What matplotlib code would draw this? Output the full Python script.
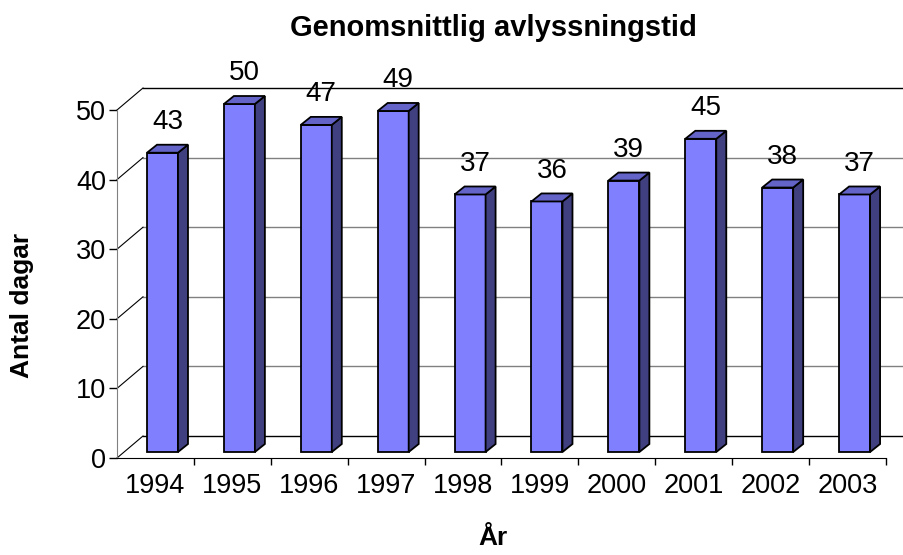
import numpy as np
import matplotlib
matplotlib.use("Agg")
import matplotlib.pyplot as plt
from matplotlib.patches import Polygon

plt.rcParams['font.family'] = ['Liberation Sans', 'DejaVu Sans']

years = ["1994", "1995", "1996", "1997", "1998", "1999", "2000", "2001", "2002", "2003"]
days = [43, 50, 47, 49, 37, 36, 39, 45, 38, 37]
yticks = [0, 10, 20, 30, 40, 50]

title = "Genomsnittlig avlyssningstid"
ylabel = "Antal dagar"
xlabel = "År"

# 3d look (in data units: x = categories, y = days)
wall_dx, wall_dy = 0.338, 3.16     # depth of floor / side wall
bar_x0, bar_w = 0.39, 0.403        # front face inside each category
bar_dx, bar_dy = 0.13, 1.15        # depth of a bar
bar_base = 0.86                    # bars stand in the middle of the floor

c_front = "#8080FF"
c_side = "#404080"
c_top = "#6464C8"

W, H = 904, 555
fig = plt.figure(figsize=(W / 100, H / 100), dpi=100)
ax = fig.add_axes([117 / W, 97 / H, 769 / W, 348 / H])
n = len(days)
ax.set_xlim(0, n)
ax.set_ylim(0, 50)

# back wall gridlines + side wall diagonals
for t in yticks:
    col = "black" if t in (0, 50) else "#808080"
    ax.plot([wall_dx, n + wall_dx], [t + wall_dy, t + wall_dy], color=col,
            lw=1, clip_on=False, zorder=1)
    ax.plot([0, wall_dx], [t, t + wall_dy], color="black", lw=0.8,
            clip_on=False, zorder=1)

# bars
for i, v in enumerate(days):
    x0 = i + bar_x0
    x1 = x0 + bar_w
    b = bar_base
    front = [(x0, b), (x1, b), (x1, b + v), (x0, b + v)]
    side = [(x1, b), (x1 + bar_dx, b + bar_dy), (x1 + bar_dx, b + v + bar_dy), (x1, b + v)]
    top = [(x0, b + v), (x1, b + v), (x1 + bar_dx, b + v + bar_dy), (x0 + bar_dx, b + v + bar_dy)]
    for pts, c in ((front, c_front), (side, c_side), (top, c_top)):
        ax.add_patch(Polygon(pts, closed=True, facecolor=c, edgecolor="black",
                             lw=1.3, joinstyle="miter", clip_on=False, zorder=3))
    ax.annotate(str(v), (x0 + (bar_w + bar_dx) / 2, b + v + bar_dy),
                xytext=(0, 7), textcoords="offset points", ha="center",
                va="bottom", fontsize=20, annotation_clip=False, zorder=4)

for s in ("top", "right"):
    ax.spines[s].set_visible(False)
ax.spines["left"].set_color("#808080")
ax.spines["bottom"].set_color("black")
ax.set_yticks(yticks)
ax.tick_params(axis="y", length=6, width=1, pad=2, labelsize=19.5)
ax.set_xticks(np.arange(1, n + 1))
ax.set_xticklabels([])
ax.set_xticks(np.arange(n) + 0.5, minor=True)
ax.set_xticklabels(years, minor=True)
ax.tick_params(axis="x", which="major", length=5, width=1)
ax.tick_params(axis="x", which="minor", length=0, pad=11, labelsize=19.5)
ax.set_facecolor("none")

fig.text(493 / W, 1 - 28 / H, title, ha="center", va="center",
         fontsize=21, fontweight="bold")
fig.text(22 / W, 1 - 305 / H, ylabel, ha="center", va="center",
         rotation=90, fontsize=19, fontweight="bold")
fig.text(493 / W, 1 - 538 / H, xlabel, ha="center", va="center",
         fontsize=19, fontweight="bold")

fig.savefig("out.png", dpi=100)
